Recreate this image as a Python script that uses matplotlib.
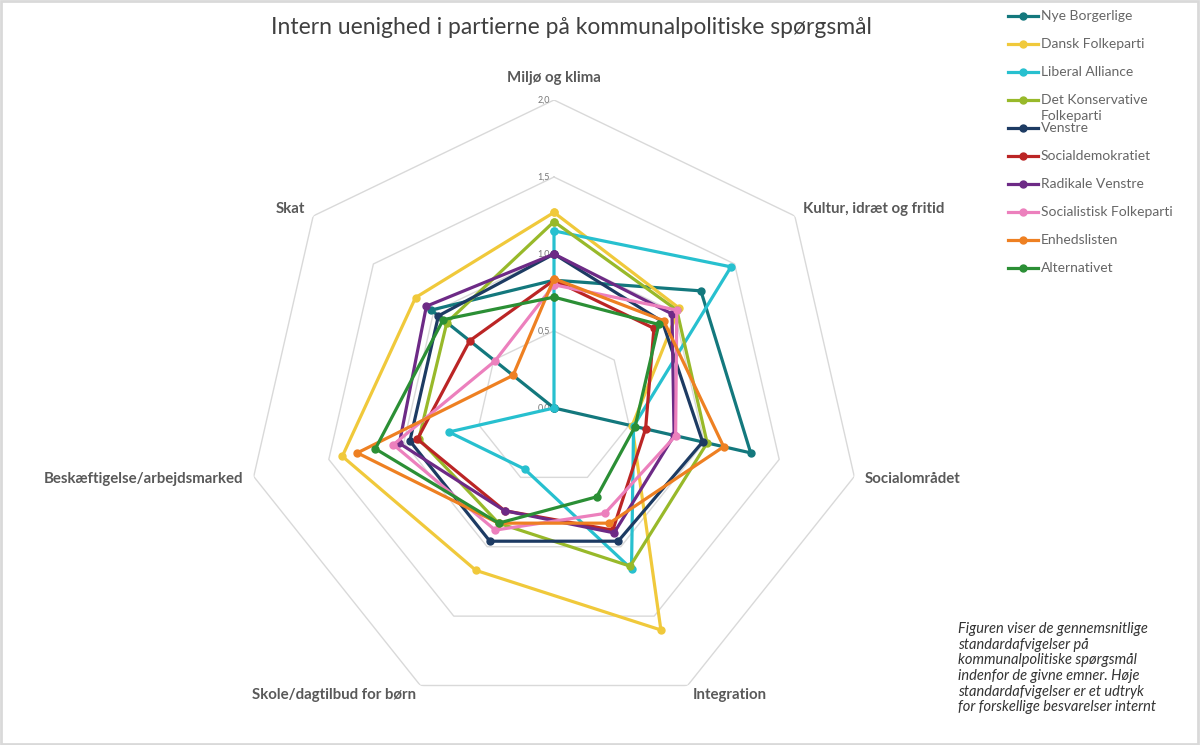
import numpy as np
import matplotlib
matplotlib.use("Agg")
import matplotlib.pyplot as plt
from matplotlib.lines import Line2D
from matplotlib.patches import Rectangle

plt.rcParams['font.family'] = ['Lato', 'DejaVu Sans']

# Emner (akser), med uret fra toppen
topics = ["Miljø og klima", "Kultur, idræt og fritid", "Socialområdet", "Integration",
          "Skole/dagtilbud for børn", "Beskæftigelse/arbejdsmarked", "Skat"]

parties = ["Nye Borgerlige", "Dansk Folkeparti", "Liberal Alliance",
           "Det Konservative\nFolkeparti", "Venstre", "Socialdemokratiet",
           "Radikale Venstre", "Socialistisk Folkeparti", "Enhedslisten", "Alternativet"]

nye_borgerlige = [0.83, 1.22, 1.31, 0.00, 0.00, 0.00, 1.02]
dansk_folkeparti = [1.27, 1.04, 0.52, 1.60, 1.17, 1.41, 1.15]
liberal_alliance = [1.15, 1.47, 0.53, 1.16, 0.44, 0.70, 0.00]
konservative = [1.21, 1.02, 1.02, 1.14, 0.83, 0.90, 0.89]
venstre = [1.00, 0.90, 0.99, 0.96, 0.96, 0.96, 0.96]
socialdemokratiet = [0.83, 0.83, 0.61, 0.88, 0.74, 0.91, 0.70]
radikale = [1.00, 0.98, 0.80, 0.90, 0.74, 1.03, 1.06]
sf = [0.80, 1.02, 0.81, 0.76, 0.88, 1.07, 0.49]
enhedslisten = [0.84, 0.91, 1.13, 0.83, 0.83, 1.31, 0.34]
alternativet = [0.72, 0.87, 0.54, 0.64, 0.83, 1.19, 0.92]

series = [nye_borgerlige, dansk_folkeparti, liberal_alliance, konservative, venstre,
          socialdemokratiet, radikale, sf, enhedslisten, alternativet]

colors = ["#13787d", "#f0c93b", "#27c0cf", "#98b92a", "#1d3b63",
          "#bb2525", "#6d2a86", "#ec80bd", "#ee8022", "#2b8f35"]

rings = [0.5, 1.0, 1.5, 2.0]
ring_labels = ["0,5", "1,0", "1,5", "2,0"]

fig = plt.figure(figsize=(12, 7.45), dpi=100)
fig.patch.set_facecolor("white")

# center (554, 408) px, radius 308 px
ax = fig.add_axes([246 / 1200, 29 / 745, 616 / 1200, 616 / 745], projection="polar")
ax.set_theta_offset(np.pi / 2)
ax.set_theta_direction(-1)
ax.set_ylim(0, 2)
ax.grid(False)
ax.set_xticks([])
ax.set_yticks([])
ax.spines['polar'].set_visible(False)
ax.patch.set_visible(False)

n = len(topics)
angles = np.linspace(0, 2 * np.pi, n, endpoint=False)
closed = np.append(angles, angles[0])

# polygon grid
for r in rings:
    ax.plot(closed, [r] * (n + 1), color="#d9d9d9", lw=1, zorder=1)

for r, lbl in zip([0.0] + rings, ["0,0"] + ring_labels):
    ax.annotate(lbl, xy=(0, r), xytext=(-3, 0), textcoords="offset points",
                ha="right", va="center", fontsize=6.5, color="#777777", zorder=2)

for vals, col in zip(series, colors):
    ax.plot(closed, vals + vals[:1], color=col, lw=2.3, marker="o", markersize=5,
            zorder=3)

# topic labels
label_pos = [(2.14, "center"), (2.07, "left"), (2.07, "left"), (2.07, "left"),
             (2.07, "right"), (2.07, "right"), (2.07, "right")]
for ang, topic, (r, ha) in zip(angles, topics, label_pos):
    ax.text(ang, r, topic, ha=ha, va="center", fontsize=10.8, fontweight="bold",
            color="#595959")

fig.text(571 / 1200, 1 - 27 / 745, "Intern uenighed i partierne på kommunalpolitiske spørgsmål",
         ha="center", va="center", fontsize=16.5, fontweight="normal", color="#404040")

# legend, fixed 28 px rows
for i, (name, col) in enumerate(zip(parties, colors)):
    y = 1 - (16 + 28 * i) / 745
    fig.add_artist(Line2D([1008 / 1200, 1038 / 1200], [y, y], color=col, lw=2.3,
                          transform=fig.transFigure))
    fig.add_artist(Line2D([1023 / 1200], [y], color=col, marker="o", markersize=5,
                          transform=fig.transFigure))
    first, *rest = name.split("\n")
    fig.text(1041 / 1200, y, first, ha="left", va="center", fontsize=10, color="#666666")
    if rest:
        fig.text(1041 / 1200, y - 16 / 745, rest[0], ha="left", va="center",
                 fontsize=10, color="#666666")

note = ("Figuren viser de gennemsnitlige\nstandardafvigelser på\n"
        "kommunalpolitiske spørgsmål\nindenfor de givne emner. Høje\n"
        "standardafvigelser er et udtryk\nfor forskellige besvarelser internt")
fig.text(958 / 1200, 1 - 622 / 745, note, ha="left", va="top", fontsize=10.5,
         style="italic", color="#333333", linespacing=1.15)

fig.add_artist(Rectangle((0.001, 0.002), 0.997, 0.996, transform=fig.transFigure,
                         fill=False, edgecolor="#d9d9d9", lw=2))

fig.savefig("out.png", dpi=100)
